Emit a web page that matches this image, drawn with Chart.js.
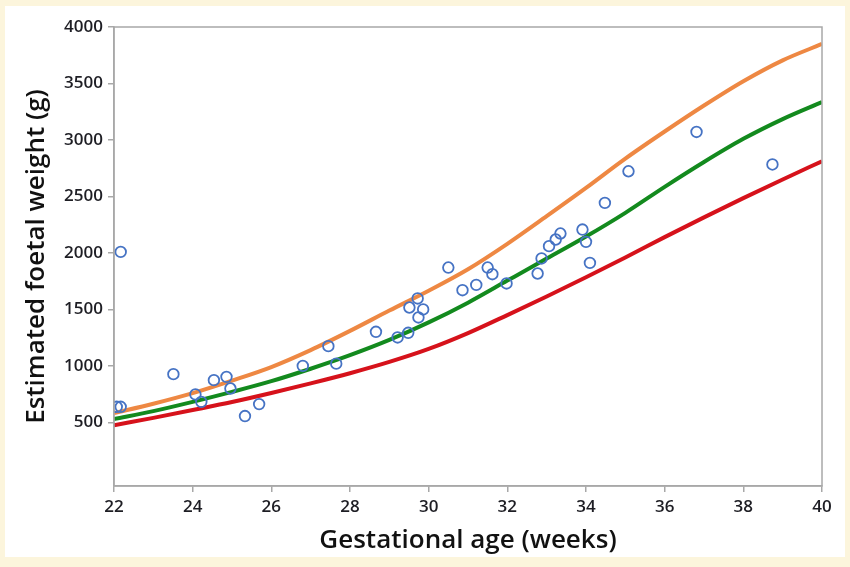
<!DOCTYPE html>
<html>
<head>
<meta charset="utf-8">
<script src="https://cdn.jsdelivr.net/npm/chart.js@4.4.1/dist/chart.umd.min.js"></script>
<style>
  html, body { margin: 0; padding: 0; background: #fcf5dc; }
  #panel { position: absolute; left: 5px; top: 6px; width: 840px; height: 551px; background: #ffffff; }
</style>
</head>
<body>
<div id="panel"><canvas id="chart" width="840" height="551"></canvas></div>
<script>
// reference curves (weeks -> grams)
const curveWeeks = [22, 23, 24, 25, 26, 27, 28, 29, 30, 31, 32, 33, 34, 35, 36, 37, 38, 39, 40];
const upperCurve = [582, 665, 759, 870, 990, 1140, 1310, 1490, 1665, 1855, 2080, 2325, 2575, 2835, 3075, 3305, 3520, 3705, 3850];
const middleCurve = [530, 600, 682, 770, 865, 975, 1095, 1230, 1385, 1560, 1755, 1950, 2145, 2355, 2585, 2805, 3010, 3185, 3336];
const lowerCurve = [475, 540, 609, 680, 760, 845, 935, 1035, 1150, 1290, 1450, 1615, 1785, 1960, 2140, 2315, 2485, 2650, 2812];

// measured foetuses
const obsWeeks = [22.07, 22.17, 22.17, 23.51, 24.07, 24.22, 24.54, 24.86, 24.96, 25.33, 25.69,
  26.80, 27.45, 27.65, 28.66, 29.21, 29.48, 29.51, 29.72, 29.86, 29.74, 30.50, 30.86, 31.21,
  31.50, 31.62, 31.98, 32.77, 32.87, 33.06, 33.23, 33.35, 33.91, 34.00, 34.10, 34.48, 35.08,
  36.81, 38.74];
const obsWeights = [638, 638, 2009, 927, 748, 682, 874, 903, 800, 556, 662,
  1000, 1175, 1020, 1302, 1252, 1293, 1517, 1597, 1500, 1429, 1871, 1670, 1717,
  1871, 1812, 1730, 1818, 1951, 2060, 2119, 2172, 2207, 2098, 1912, 2443, 2723,
  3071, 2783];

const xTicks = [22, 24, 26, 28, 30, 32, 34, 36, 38, 40];
const yTicks = [500, 1000, 1500, 2000, 2500, 3000, 3500, 4000];

const toPoints = (xs, ys) => xs.map((x, i) => ({ x: x, y: ys[i] }));

function curve(label, values, color, order) {
    return {
        label: label,
        type: 'line',
        data: toPoints(curveWeeks, values),
        borderColor: color,
        borderWidth: 4,
        pointRadius: 0,
        cubicInterpolationMode: 'monotone',
        fill: false,
        order: order
    };
}

// frame around the plot area
const frame = {
    id: 'frame',
    afterDraw(chart) {
        const a = chart.chartArea;
        const c = chart.ctx;
        c.save();
        c.strokeStyle = '#a8a8a8';
        c.lineWidth = 1.5;
        c.strokeRect(a.left, a.top, a.right - a.left, a.bottom - a.top);
        c.restore();
    }
};

const tickFont = { family: 'Open Sans', size: 17, weight: '600' };
const titleFont = { family: 'Open Sans', size: 26, weight: '600' };

new Chart(document.getElementById('chart').getContext('2d'), {
    type: 'scatter',
    data: {
        datasets: [
            {
                label: 'Observed',
                data: toPoints(obsWeeks, obsWeights),
                pointStyle: 'circle',
                pointRadius: 5.3,
                pointBorderWidth: 1.8,
                borderColor: '#4673c4',
                backgroundColor: 'rgba(255,255,255,0)',
                order: 0
            },
            curve('Lower', lowerCurve, '#d6121b', 1),
            curve('Middle', middleCurve, '#138a1e', 2),
            curve('Upper', upperCurve, '#ee8843', 3)
        ]
    },
    options: {
        responsive: false,
        animation: false,
        layout: { padding: { left: 0, right: 23, top: 21, bottom: 0 } },
        plugins: {
            legend: { display: false },
            tooltip: { enabled: false }
        },
        scales: {
            x: {
                type: 'linear',
                min: 22,
                max: 40,
                afterBuildTicks: s => { s.ticks = xTicks.map(v => ({ value: v })); },
                afterFit: s => { s.height = 71; },
                grid: { drawOnChartArea: false, color: '#a8a8a8', tickLength: 6, lineWidth: 1.5 },
                border: { color: '#a8a8a8', width: 1.5 },
                ticks: { font: tickFont, color: '#1e1e24', padding: 5, maxRotation: 0, callback: v => String(v) },
                title: { display: true, text: 'Gestational age (weeks)', font: titleFont, color: '#111', padding: { top: 0, bottom: 1 } }
            },
            y: {
                type: 'linear',
                min: -63,
                max: 4000,
                afterBuildTicks: s => { s.ticks = yTicks.map(v => ({ value: v })); },
                afterFit: s => { s.width = 109; },
                grid: { drawOnChartArea: false, color: '#a8a8a8', tickLength: 6, lineWidth: 1.5 },
                border: { color: '#a8a8a8', width: 1.5 },
                ticks: { font: tickFont, color: '#1e1e24', padding: 5, callback: v => String(v) },
                title: { display: true, text: 'Estimated foetal weight (g)', font: titleFont, color: '#111', padding: { top: 16, bottom: 0 } }
            }
        }
    },
    plugins: [frame]
});
</script>
</body>
</html>
